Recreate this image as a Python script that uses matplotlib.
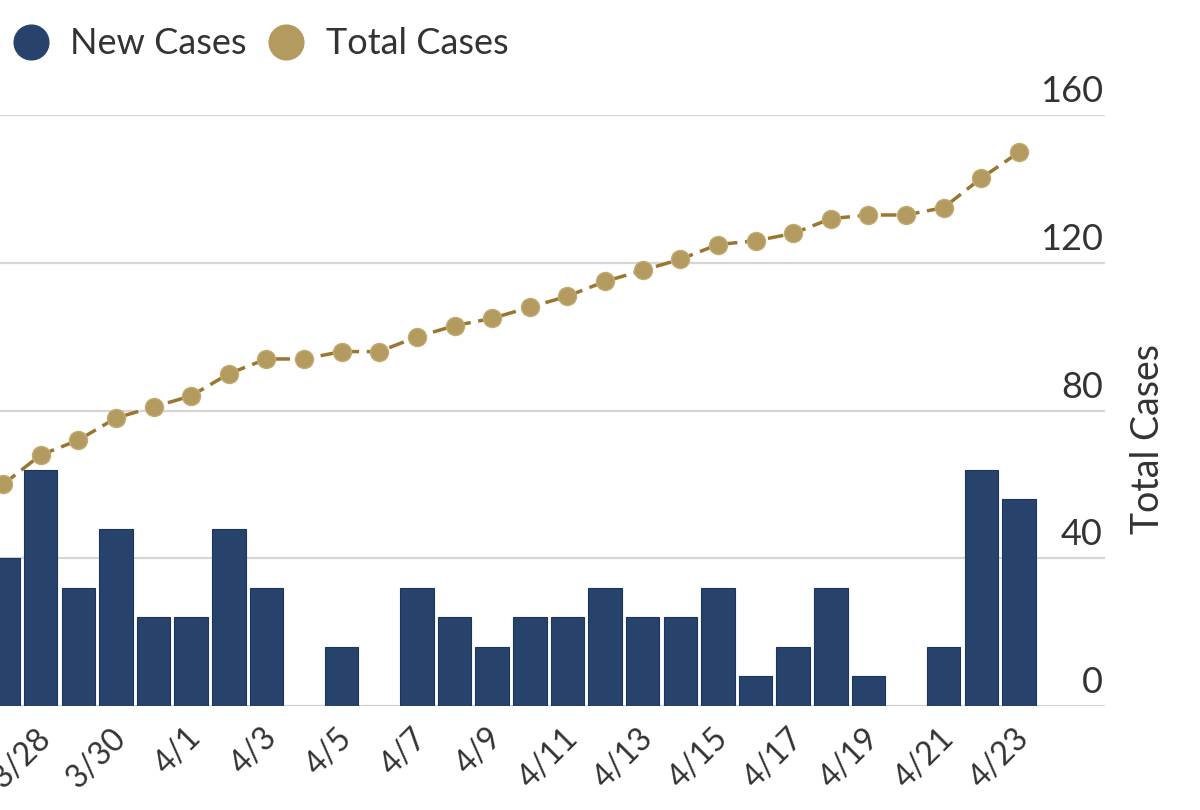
import matplotlib
matplotlib.use("Agg")
import matplotlib.pyplot as plt
from matplotlib.lines import Line2D
from matplotlib import transforms

plt.rcParams['font.family'] = ['Lato', 'DejaVu Sans']

# chart data
dates = ["3/27", "3/28", "3/29", "3/30", "3/31", "4/1", "4/2", "4/3", "4/4", "4/5",
         "4/6", "4/7", "4/8", "4/9", "4/10", "4/11", "4/12", "4/13", "4/14", "4/15",
         "4/16", "4/17", "4/18", "4/19", "4/20", "4/21", "4/22", "4/23"]
new_cases = [5, 8, 4, 6, 3, 3, 6, 4, 0, 2, 0, 4, 3, 2, 3, 3, 4, 3, 3, 4,
             1, 2, 4, 1, 0, 2, 8, 7]
total_cases = [60, 68, 72, 78, 81, 84, 90, 94, 94, 96, 96, 100, 103, 105, 108, 111,
               115, 118, 121, 125, 126, 128, 132, 133, 133, 135, 143, 150]
right_ticks = [0, 40, 80, 120, 160]

NAVY = "#27436b"
GOLD = "#b39a5e"
GOLD_DARK = "#9a7631"
TEXT = "#333333"

W, H = 1200, 810
fig = plt.figure(figsize=(12, 8.1), dpi=100)
# plot area (left side cropped off like the reference)
ax = fig.add_axes([0, (H - 706) / H, 1105 / W, (706 - 115.3) / H])
ax2 = ax.twinx()

x = list(range(len(dates)))
ax.bar(x, new_cases, width=0.89, color=NAVY, edgecolor="#1c355a", linewidth=0.8, zorder=2)
ax.set_ylim(0, 20)
ax.set_yticks([0, 5, 10, 15, 20])
ax.yaxis.grid(True, color="#d6d6d6", linewidth=1.6, zorder=0)
ax.set_axisbelow(True)
ax.tick_params(axis="y", left=False, labelleft=False)

ax2.plot(x, total_cases, color=GOLD_DARK, linewidth=2.5, dashes=(4.5, 2.2),
         marker="o", markersize=13, markerfacecolor=GOLD, markeredgecolor="#c2aa73",
         markeredgewidth=1.0, zorder=3)
ax2.set_ylim(0, 160)
ax2.set_yticks([])

ax.set_xlim(-3 / 37.63, 1102 / 37.63)

for a in (ax, ax2):
    for s in a.spines.values():
        s.set_visible(False)

# x ticks: every other date
ax.set_xticks(x[1::2])
ax.set_xticklabels(dates[1::2], rotation=45, ha="right", va="top",
                   rotation_mode="anchor", fontsize=23, color=TEXT)
ax.tick_params(axis="x", length=0, pad=12)
for lbl in ax.get_xticklabels():
    lbl.set_transform(lbl.get_transform() + transforms.ScaledTranslation(-5 / 100, 0, fig.dpi_scale_trans))

# right axis labels sit above the gridlines
trans = transforms.blended_transform_factory(ax2.transAxes, ax2.transData)
trans = trans + transforms.ScaledTranslation(-2 / 100, 7 / 100, fig.dpi_scale_trans)
for t in right_ticks:
    ax2.text(1.0, t, str(t), transform=trans, ha="right", va="bottom",
             fontsize=26, color=TEXT)

fig.text(1148 / W, 1 - 439 / H, "Total Cases", rotation=90, ha="center", va="center",
         fontsize=27, color=TEXT)

handles = [
    Line2D([], [], linestyle="none", marker="o", markersize=25, markerfacecolor=NAVY,
           markeredgecolor=NAVY),
    Line2D([], [], linestyle="none", marker="o", markersize=25, markerfacecolor=GOLD,
           markeredgecolor=GOLD),
]
fig.legend(handles, ["New Cases", "Total Cases"], loc="center left",
           bbox_to_anchor=(-2 / W, 1 - 44 / H), ncol=2, frameon=False,
           fontsize=26, handlelength=1.0, handletextpad=0.6, columnspacing=0.6,
           labelcolor=TEXT, borderaxespad=0)

fig.savefig("out.png", dpi=100)
